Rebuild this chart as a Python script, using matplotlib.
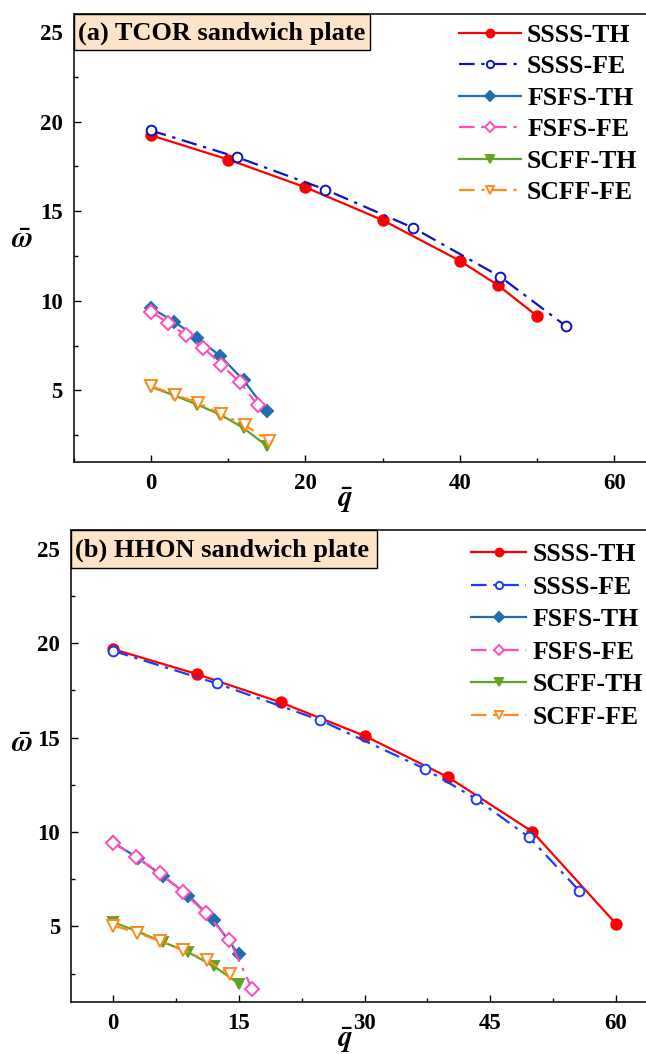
import matplotlib
matplotlib.use("Agg")
import matplotlib.pyplot as plt
from matplotlib.patches import Rectangle
from matplotlib.ticker import MultipleLocator

plt.rcParams['font.family'] = ['Liberation Serif', 'DejaVu Serif']
plt.rcParams['font.weight'] = 'bold'
plt.rcParams['mathtext.fontset'] = 'stix'

# ---------------- data: panel (a) TCOR ----------------
a_ssss_th_q = [0, 10, 20, 30, 40, 45, 50]
a_ssss_th_w = [19.23, 17.88, 16.33, 14.5, 12.23, 10.85, 9.15]
a_ssss_fe_q = [0, 11.2, 22.6, 34.0, 45.2, 53.7]
a_ssss_fe_w = [19.5, 18.0, 16.2, 14.06, 11.35, 8.6]
a_fsfs_th_q = [0, 3, 6, 9, 12, 15]
a_fsfs_th_w = [9.6, 8.83, 7.93, 6.9, 5.56, 3.85]
a_fsfs_fe_q = [0, 2.2, 4.5, 6.8, 9.1, 11.5, 13.8]
a_fsfs_fe_w = [9.39, 8.77, 8.08, 7.37, 6.44, 5.45, 4.2]
a_scff_th_q = [0, 3, 6, 9, 12, 15]
a_scff_th_w = [5.19, 4.72, 4.2, 3.64, 2.89, 1.9]
a_scff_fe_q = [0, 3.1, 6.1, 9.1, 12.2, 15.3]
a_scff_fe_w = [5.24, 4.76, 4.29, 3.69, 3.04, 2.18]

# ---------------- data: panel (b) HHON ----------------
b_ssss_th_q = [0, 10, 20, 30, 40, 50, 60]
b_ssss_th_w = [19.69, 18.37, 16.87, 15.1, 12.9, 10.03, 5.14]
b_ssss_fe_q = [0, 12.4, 24.7, 37.2, 43.3, 49.6, 55.6]
b_ssss_fe_w = [19.6, 17.87, 15.93, 13.35, 11.76, 9.74, 6.9]
b_fsfs_th_q = [0, 3, 6, 9, 12, 15]
b_fsfs_th_w = [9.45, 8.62, 7.65, 6.64, 5.32, 3.52]
b_fsfs_fe_q = [0, 2.8, 5.6, 8.3, 11.06, 13.85, 16.6]
b_fsfs_fe_w = [9.44, 8.66, 7.82, 6.85, 5.71, 4.3, 1.69]
b_scff_th_q = [0, 3, 6, 9, 12, 15]
b_scff_th_w = [5.23, 4.72, 4.17, 3.63, 2.9, 1.97]
b_scff_fe_q = [0, 2.9, 5.6, 8.4, 11.2, 13.9]
b_scff_fe_w = [5.05, 4.67, 4.22, 3.74, 3.21, 2.5]

labels = ['SSSS-TH', 'SSSS-FE', 'FSFS-TH', 'FSFS-FE', 'SCFF-TH', 'SCFF-FE']
titles = ['(a) TCOR sandwich plate', '(b) HHON sandwich plate']

W, H = 646, 1054
fig = plt.figure(figsize=(W / 100, H / 100), dpi=100)


def fx(px):
    return px / W


def fy(py):
    return 1 - py / H


def add_axes(l, t, r, b):
    return fig.add_axes([fx(l), fy(b), fx(r) - fx(l), fy(t) - fy(b)])


ax1 = add_axes(73.8, 14, 652.8, 462)
ax2 = add_axes(71.1, 530, 658, 1002)

DASHDOT = (0, (7, 3, 1.5, 3))
styles_a = [
    dict(color='#FF0000', ls='-', marker='o', mfc='#FF0000', mec='#FF0000'),
    dict(color='#0A14C0', ls=DASHDOT, marker='o', mfc='white', mec='#0A14C0'),
    dict(color='#1F6EB0', ls='-', marker='D', mfc='#1F6EB0', mec='#1F6EB0'),
    dict(color='#FF4DB8', ls=DASHDOT, marker='D', mfc='white', mec='#FF4DB8'),
    dict(color='#64A322', ls='-', marker='v', mfc='#64A322', mec='#64A322'),
    dict(color='#FF8A1E', ls=DASHDOT, marker='v', mfc='white', mec='#FF8A1E'),
]
styles_b = [dict(s) for s in styles_a]
styles_b[1]['color'] = '#1A3CFF'
styles_b[1]['mec'] = '#1A3CFF'

data_a = [(a_ssss_th_q, a_ssss_th_w), (a_ssss_fe_q, a_ssss_fe_w),
          (a_fsfs_th_q, a_fsfs_th_w), (a_fsfs_fe_q, a_fsfs_fe_w),
          (a_scff_th_q, a_scff_th_w), (a_scff_fe_q, a_scff_fe_w)]
data_b = [(b_ssss_th_q, b_ssss_th_w), (b_ssss_fe_q, b_ssss_fe_w),
          (b_fsfs_th_q, b_fsfs_th_w), (b_fsfs_fe_q, b_fsfs_fe_w),
          (b_scff_th_q, b_scff_th_w), (b_scff_fe_q, b_scff_fe_w)]

msizes = [7.5, 7, 6.5, 7, 7.5, 8]


def draw(ax, data, styles, xlim, xmaj, xmin, title, box, leg_xy, hlen, lspace):
    handles = []
    for i, ((q, w), st) in enumerate(zip(data, styles)):
        h, = ax.plot(q, w, lw=1.6, ms=msizes[i], mew=1.4, label=labels[i],
                     clip_on=False, zorder=3 + (1 if i % 2 else 0), **st)
        handles.append(h)
    ax.set_xlim(*xlim)
    ax.set_ylim(1, 26)
    ax.xaxis.set_major_locator(MultipleLocator(xmaj))
    ax.xaxis.set_minor_locator(MultipleLocator(xmin))
    ax.yaxis.set_major_locator(MultipleLocator(5))
    ax.yaxis.set_minor_locator(MultipleLocator(2.5))
    ax.tick_params(which='both', direction='in', top=False, right=False,
                   width=1.0, labelsize=16.5, pad=8)
    ax.tick_params(which='major', length=5)
    ax.tick_params(which='minor', length=3)
    for sp in ax.spines.values():
        sp.set_linewidth(1.1)
    ax.set_xticks([t for t in range(0, 61, xmaj)])
    ax.set_yticks([5, 10, 15, 20, 25])
    for lab in ax.get_xticklabels() + ax.get_yticklabels():
        lab.set_fontweight('bold')
    # title box
    l, t, r, b = box
    fig.add_artist(Rectangle((fx(l), fy(b)), fx(r) - fx(l), fy(t) - fy(b),
                             transform=fig.transFigure, fc='#FCE4C8',
                             ec='black', lw=1.0, zorder=5))
    fig.text(fx(l + 4), fy((t + b) / 2 + 1), title, fontsize=19, fontweight='bold',
             va='center', ha='left', zorder=6)
    leg = ax.legend(handles=handles, loc='upper left',
                    bbox_to_anchor=(fx(leg_xy[0]), fy(leg_xy[1])),
                    bbox_transform=fig.transFigure, frameon=False,
                    prop=dict(family='Liberation Serif', weight='bold', size=18.5),
                    handlelength=hlen, handletextpad=0.25, labelspacing=lspace,
                    borderpad=0, borderaxespad=0, markerscale=0.75)
    return leg


draw(ax1, data_a, styles_a, (-10, 65), 20, 10, titles[0], (73.8, 14, 370, 50),
     (459, 24), 2.4, 0.33)
draw(ax2, data_b, styles_b, (-5, 65), 15, 7.5, titles[1], (71.1, 530, 377, 568),
     (471, 543), 2.15, 0.37)

for ax, (xl, yl) in zip([ax1, ax2], [((345, 500), (22, 241)), ((345, 1040), (22, 745))]):
    pos = ax.get_position()
    ax.set_xlabel(r'$\bar{q}$', fontsize=21)
    ax.set_ylabel(r'$\bar{\omega}$', fontsize=21, rotation=0)
    ax.xaxis.set_label_coords((fx(xl[0]) - pos.x0) / pos.width, (fy(xl[1]) - pos.y0) / pos.height,
                              transform=ax.transAxes)
    ax.yaxis.set_label_coords((fx(yl[0]) - pos.x0) / pos.width, (fy(yl[1]) - pos.y0) / pos.height,
                              transform=ax.transAxes)
    ax.xaxis.label.set_va('center')
    ax.yaxis.label.set_va('center')

fig.savefig('out.png', dpi=100)
